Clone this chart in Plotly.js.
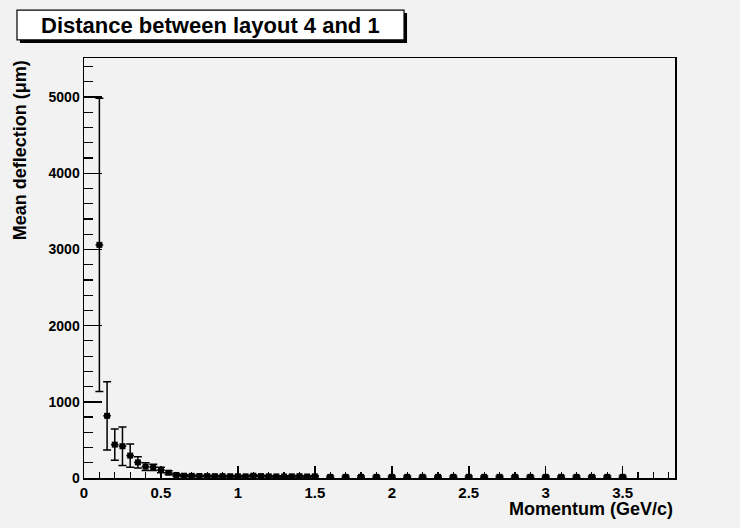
<!DOCTYPE html>
<html>
<head>
<meta charset="utf-8">
<script src="https://cdn.plot.ly/plotly-3.0.1.min.js"></script>
<style>html,body{margin:0;padding:0;background:#f2f2f2;}#chart{width:740px;height:528px;}</style>
</head>
<body>
<div id="chart"></div>
<script>
const momentum = [0.10,0.15,0.20,0.25,0.30,0.35,0.40,0.45,0.50,0.55,0.60,0.65,0.70,0.75,0.80,0.85,0.90,0.95,1.00,1.05,1.10,1.15,1.20,1.25,1.30,1.35,1.40,1.45,1.50,
  1.6,1.7,1.8,1.9,2.0,2.1,2.2,2.3,2.4,2.5,2.6,2.7,2.8,2.9,3.0,3.1,3.2,3.3,3.4,3.5];
const deflection = [3060,816,438,417,294,205,150,140,105,70,40,30,28,26,25,24,24,23,23,22,30,25,22,21,20,22,24,20,22,
  15,15,15,15,15,15,15,15,15,15,15,15,15,15,15,15,15,15,15,15];
const deflectionErr = [1925,447,206,252,153,75,50,40,35,25,15,12,10,10,10,10,10,10,10,10,12,10,10,10,10,10,10,10,10,
  12,12,12,12,12,12,12,12,12,12,12,12,12,12,12,12,12,12,12,12];
const momentumErr = momentum.map(function(p){ return p <= 1.5 ? 0.025 : 0.02; });

const titleText = "Distance between layout 4 and 1";
const xTitle = "Momentum (GeV/c)";
const yTitle = "Mean deflection (\u03bcm)";

const font = "Liberation Sans, Arial, Helvetica, sans-serif";

const trace = {
  x: momentum, y: deflection, type: "scatter", mode: "markers",
  marker: {symbol: "square", size: 6, color: "#000"},
  error_y: {type: "data", array: deflectionErr, visible: true, color: "#000", thickness: 1.5, width: 4},
  error_x: {type: "data", array: momentumErr, visible: true, color: "#000", thickness: 1.5, width: 0},
  showlegend: false, hoverinfo: "x+y"
};

const layout = {
  width: 740, height: 528,
  margin: {l: 84, r: 65, t: 58, b: 50},
  paper_bgcolor: "#f2f2f2", plot_bgcolor: "#f2f2f2",
  font: {family: font, color: "#000"},
  xaxis: {
    range: [0, 3.84], showgrid: false, zeroline: false,
    showline: true, linecolor: "#000", linewidth: 1.5, mirror: true,
    ticks: "inside", ticklen: 12, tickwidth: 1.5, tickcolor: "#000",
    dtick: 0.5, tick0: 0,
    tickfont: {family: font, size: 15, color: "#000", weight: "bold"},
    minor: {dtick: 0.1, ticks: "inside", ticklen: 6, tickwidth: 1.2, tickcolor: "#000"}
  },
  yaxis: {
    range: [0, 5513], showgrid: false, zeroline: false,
    showline: true, linecolor: "#000", linewidth: 1.5, mirror: true,
    ticks: "inside", ticklen: 18, tickwidth: 1.5, tickcolor: "#000",
    dtick: 1000, tick0: 0,
    tickfont: {family: font, size: 14, color: "#000", weight: "bold"},
    minor: {dtick: 200, ticks: "inside", ticklen: 9, tickwidth: 1.2, tickcolor: "#000"}
  },
  shapes: [
    {type: "rect", xref: "paper", yref: "paper", x0: -0.1083, x1: 0.5466, y0: 1.036, y1: 1.107, fillcolor: "#000", line: {width: 0}, layer: "above"},
    {type: "rect", xref: "paper", yref: "paper", x0: -0.1134, x1: 0.5415, y0: 1.043, y1: 1.114, fillcolor: "#fff", line: {color: "#000", width: 1.2}, layer: "above"}
  ],
  annotations: [
    {text: "<b>" + titleText + "</b>", xref: "paper", yref: "paper", x: 0.2140, y: 1.0785, xanchor: "center", yanchor: "middle", showarrow: false, font: {family: font, size: 22, color: "#000"}},
    {text: "<b>" + yTitle + "</b>", xref: "paper", yref: "paper", x: -0.108, y: 1.0, xanchor: "center", yanchor: "top", textangle: -90, showarrow: false, font: {family: font, size: 18, color: "#000"}},
    {text: "<b>" + xTitle + "</b>", xref: "paper", yref: "paper", x: 1.0, y: -0.045, xanchor: "right", yanchor: "top", showarrow: false, font: {family: font, size: 18, color: "#000"}}
  ]
};

Plotly.newPlot("chart", [trace], layout, {displayModeBar: false, staticPlot: true});
</script>
</body>
</html>
